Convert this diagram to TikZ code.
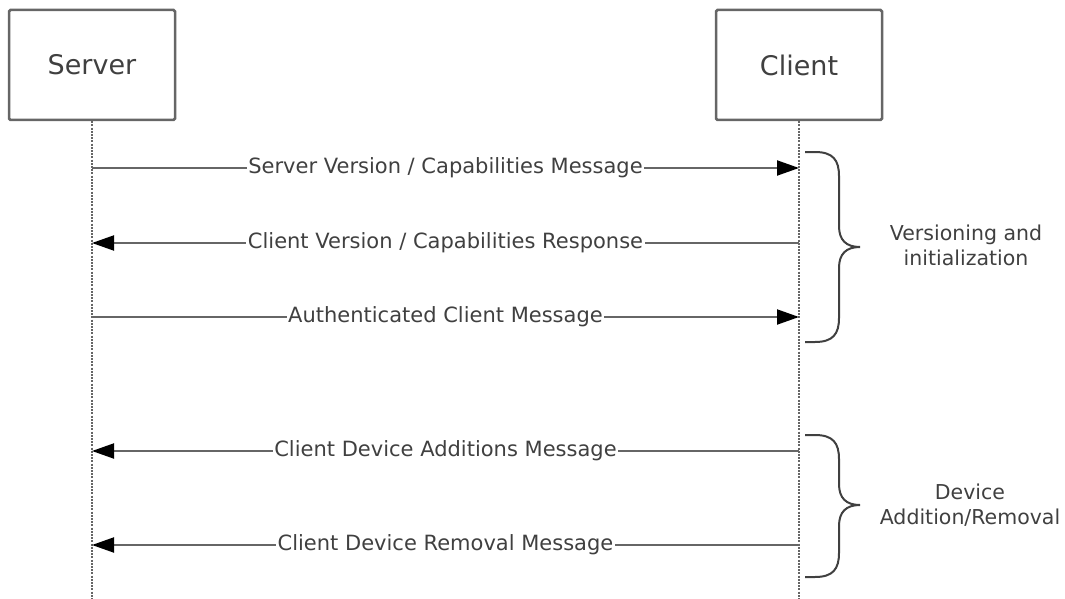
\documentclass[tikz,border=0pt]{standalone}
\usepackage{fontspec}
\setmainfont{DejaVu Sans}
\usetikzlibrary{arrows.meta}
\definecolor{linegray}{HTML}{666666}
\definecolor{textgray}{HTML}{404040}
\tikzset{
    actor/.style={draw=linegray, line width=2.5pt, rounded corners=1.5pt, minimum width=166pt, minimum height=110pt, text=textgray, font=\fontsize{27}{32}\selectfont},
    lifeline/.style={linegray, line width=2.5pt, dash pattern=on 2pt off 1.2pt},
    msg/.style={linegray, line width=2pt, -{Triangle[length=22pt, width=15pt, color=black]}},
    msglabel/.style={fill=white, inner sep=1.5pt, text=textgray, font=\fontsize{21}{25}\selectfont},
    bracket/.style={textgray, line width=2pt},
    phase/.style={align=center, text=textgray, font=\fontsize{20.5}{25}\selectfont}
}
\begin{document}
\begin{tikzpicture}[x=1pt, y=-1pt]
        \useasboundingbox (0,0) rectangle (1065,599);

        \node[actor] (server) at (92,65) {Server};
        \node[actor] (client) at (799,65) {Client};
        \coordinate (serverend) at (92,599);
        \coordinate (clientend) at (799,599);
        \draw[lifeline] (server.south) -- (serverend);
        \draw[lifeline] (client.south) -- (clientend);

        \foreach \i/\y in {1/168, 2/243, 3/317, 4/451, 5/545} {
            \coordinate (s\i) at (92,\y);
            \coordinate (c\i) at (799,\y);
        }

        \draw[msg] (s1) -- node[msglabel] {Server Version / Capabilities Message} (c1);
        \draw[msg] (c2) -- node[msglabel] {Client Version / Capabilities Response} (s2);
        \draw[msg] (s3) -- node[msglabel] {Authenticated Client Message} (c3);
        \draw[msg] (c4) -- node[msglabel] {Client Device Additions Message} (s4);
        \draw[msg] (c5) -- node[msglabel] {Client Device Removal Message} (s5);

        % braces
        \draw[bracket] (805,152) -- (815,152) .. controls (833,152) and (839,160) .. (839,176)
            -- (839,226) .. controls (839,240) and (846,247) .. (860,247)
            .. controls (846,247) and (839,254) .. (839,268)
            -- (839,318) .. controls (839,334) and (833,342) .. (815,342) -- (805,342);
        \draw[bracket] (805,435) -- (815,435) .. controls (833,435) and (839,443) .. (839,459)
            -- (839,484) .. controls (839,498) and (846,505) .. (860,505)
            .. controls (846,505) and (839,512) .. (839,526)
            -- (839,553) .. controls (839,569) and (833,577) .. (815,577) -- (805,577);

        \node[phase] (versioning) at (966,245) {Versioning and\\initialization};
        \node[phase] (device) at (970,505) {Device\\Addition/Removal};
    \end{tikzpicture}
\end{document}
